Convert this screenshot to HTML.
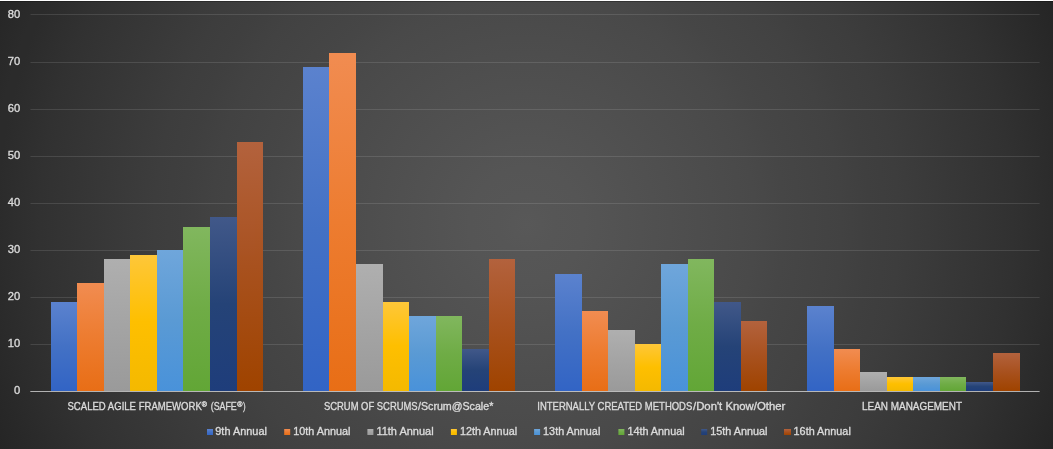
<!DOCTYPE html>
<html lang="en"><head><meta charset="utf-8"><title>Scaling methods chart</title>
<style>html,body{margin:0;padding:0;background:#2b2b2b;overflow:hidden}svg{display:block;will-change:transform;opacity:0.9999}text{font-family:"Liberation Sans",sans-serif;fill:#dcdcdc;stroke:#dcdcdc;stroke-width:0.34px}</style></head><body>
<svg width="1053" height="449" viewBox="0 0 1053 449">
<defs>
<radialGradient id="bg" gradientUnits="userSpaceOnUse" cx="526.5" cy="224.5" r="572.4"><stop offset="0.000" stop-color="rgb(89.0,89.0,89.0)"/><stop offset="0.050" stop-color="rgb(87.2,87.2,87.2)"/><stop offset="0.100" stop-color="rgb(85.5,85.5,85.5)"/><stop offset="0.150" stop-color="rgb(83.6,83.6,83.6)"/><stop offset="0.200" stop-color="rgb(81.7,81.7,81.7)"/><stop offset="0.250" stop-color="rgb(79.8,79.8,79.8)"/><stop offset="0.300" stop-color="rgb(77.8,77.8,77.8)"/><stop offset="0.350" stop-color="rgb(75.7,75.7,75.7)"/><stop offset="0.400" stop-color="rgb(73.6,73.6,73.6)"/><stop offset="0.450" stop-color="rgb(71.4,71.4,71.4)"/><stop offset="0.500" stop-color="rgb(69.1,69.1,69.1)"/><stop offset="0.550" stop-color="rgb(66.7,66.7,66.7)"/><stop offset="0.600" stop-color="rgb(64.2,64.2,64.2)"/><stop offset="0.650" stop-color="rgb(61.6,61.6,61.6)"/><stop offset="0.700" stop-color="rgb(58.9,58.9,58.9)"/><stop offset="0.750" stop-color="rgb(56.0,56.0,56.0)"/><stop offset="0.800" stop-color="rgb(52.9,52.9,52.9)"/><stop offset="0.850" stop-color="rgb(49.6,49.6,49.6)"/><stop offset="0.900" stop-color="rgb(46.1,46.1,46.1)"/><stop offset="0.950" stop-color="rgb(42.3,42.3,42.3)"/><stop offset="1.000" stop-color="rgb(38.0,38.0,38.0)"/></radialGradient>
<linearGradient id="g0" x1="0" y1="0" x2="0" y2="1"><stop offset="0" stop-color="#5c83cf"/><stop offset="0.5" stop-color="#4472c6"/><stop offset="1" stop-color="#3365c6"/></linearGradient>
<linearGradient id="g1" x1="0" y1="0" x2="0" y2="1"><stop offset="0" stop-color="#f28d52"/><stop offset="0.5" stop-color="#ee7d31"/><stop offset="1" stop-color="#e96f17"/></linearGradient>
<linearGradient id="g2" x1="0" y1="0" x2="0" y2="1"><stop offset="0" stop-color="#b0b0b0"/><stop offset="0.5" stop-color="#a5a5a5"/><stop offset="1" stop-color="#9b9b9b"/></linearGradient>
<linearGradient id="g3" x1="0" y1="0" x2="0" y2="1"><stop offset="0" stop-color="#ffc83a"/><stop offset="0.5" stop-color="#ffc000"/><stop offset="1" stop-color="#f5ba00"/></linearGradient>
<linearGradient id="g4" x1="0" y1="0" x2="0" y2="1"><stop offset="0" stop-color="#70a7dc"/><stop offset="0.5" stop-color="#5b9bd5"/><stop offset="1" stop-color="#4a93db"/></linearGradient>
<linearGradient id="g5" x1="0" y1="0" x2="0" y2="1"><stop offset="0" stop-color="#82b85f"/><stop offset="0.5" stop-color="#70ad47"/><stop offset="1" stop-color="#63a737"/></linearGradient>
<linearGradient id="g6" x1="0" y1="0" x2="0" y2="1"><stop offset="0" stop-color="#42598a"/><stop offset="0.5" stop-color="#264478"/><stop offset="1" stop-color="#1f3e7c"/></linearGradient>
<linearGradient id="g7" x1="0" y1="0" x2="0" y2="1"><stop offset="0" stop-color="#b4633e"/><stop offset="0.5" stop-color="#a9521f"/><stop offset="1" stop-color="#a04400"/></linearGradient>
</defs>
<rect width="1053" height="449" fill="url(#bg)"/>
<rect width="1053" height="1" fill="#ffffff"/>
<rect y="1" width="1053" height="1" fill="#000000" fill-opacity="0.28"/>
<rect x="30.5" y="344" width="1009.1" height="1" fill="#f2f2f2" fill-opacity="0.125"/>
<rect x="30.5" y="297" width="1009.1" height="1" fill="#f2f2f2" fill-opacity="0.125"/>
<rect x="30.5" y="250" width="1009.1" height="1" fill="#f2f2f2" fill-opacity="0.125"/>
<rect x="30.5" y="203" width="1009.1" height="1" fill="#f2f2f2" fill-opacity="0.125"/>
<rect x="30.5" y="156" width="1009.1" height="1" fill="#f2f2f2" fill-opacity="0.125"/>
<rect x="30.5" y="109" width="1009.1" height="1" fill="#f2f2f2" fill-opacity="0.125"/>
<rect x="30.5" y="62" width="1009.1" height="1" fill="#f2f2f2" fill-opacity="0.125"/>
<rect x="30.5" y="14" width="1009.1" height="1" fill="#f2f2f2" fill-opacity="0.125"/>
<rect x="51" y="302" width="26" height="89" fill="url(#g0)"/>
<rect x="77" y="283" width="27" height="108" fill="url(#g1)"/>
<rect x="104" y="259" width="26" height="132" fill="url(#g2)"/>
<rect x="130" y="255" width="27" height="136" fill="url(#g3)"/>
<rect x="157" y="250" width="26" height="141" fill="url(#g4)"/>
<rect x="183" y="227" width="27" height="164" fill="url(#g5)"/>
<rect x="210" y="217" width="27" height="174" fill="url(#g6)"/>
<rect x="237" y="142" width="26" height="249" fill="url(#g7)"/>
<rect x="303" y="67" width="26" height="324" fill="url(#g0)"/>
<rect x="329" y="53" width="27" height="338" fill="url(#g1)"/>
<rect x="356" y="264" width="27" height="127" fill="url(#g2)"/>
<rect x="383" y="302" width="26" height="89" fill="url(#g3)"/>
<rect x="409" y="316" width="27" height="75" fill="url(#g4)"/>
<rect x="436" y="316" width="26" height="75" fill="url(#g5)"/>
<rect x="462" y="349" width="27" height="42" fill="url(#g6)"/>
<rect x="489" y="259" width="26" height="132" fill="url(#g7)"/>
<rect x="555" y="274" width="27" height="117" fill="url(#g0)"/>
<rect x="582" y="311" width="26" height="80" fill="url(#g1)"/>
<rect x="608" y="330" width="27" height="61" fill="url(#g2)"/>
<rect x="635" y="344" width="26" height="47" fill="url(#g3)"/>
<rect x="661" y="264" width="27" height="127" fill="url(#g4)"/>
<rect x="688" y="259" width="26" height="132" fill="url(#g5)"/>
<rect x="714" y="302" width="27" height="89" fill="url(#g6)"/>
<rect x="741" y="321" width="26" height="70" fill="url(#g7)"/>
<rect x="807" y="306" width="27" height="85" fill="url(#g0)"/>
<rect x="834" y="349" width="26" height="42" fill="url(#g1)"/>
<rect x="860" y="372" width="27" height="19" fill="url(#g2)"/>
<rect x="887" y="377" width="26" height="14" fill="url(#g3)"/>
<rect x="913" y="377" width="27" height="14" fill="url(#g4)"/>
<rect x="940" y="377" width="26" height="14" fill="url(#g5)"/>
<rect x="966" y="382" width="27" height="9" fill="url(#g6)"/>
<rect x="993" y="353" width="27" height="38" fill="url(#g7)"/>
<rect x="30.3" y="391" width="1009.3" height="1" fill="#f2f2f2" fill-opacity="0.68"/>
<g opacity="0.999">
<text x="20.2" y="394.06" font-size="11.2" text-anchor="end">0</text>
<text x="20.2" y="347.04" font-size="11.2" text-anchor="end">10</text>
<text x="20.2" y="300.02" font-size="11.2" text-anchor="end">20</text>
<text x="20.2" y="253.00" font-size="11.2" text-anchor="end">30</text>
<text x="20.2" y="205.98" font-size="11.2" text-anchor="end">40</text>
<text x="20.2" y="158.96" font-size="11.2" text-anchor="end">50</text>
<text x="20.2" y="111.94" font-size="11.2" text-anchor="end">60</text>
<text x="20.2" y="64.92" font-size="11.2" text-anchor="end">70</text>
<text x="20.2" y="17.90" font-size="11.2" text-anchor="end">80</text>
<text x="67.5" y="410.0" font-size="10.6" textLength="134.3" lengthAdjust="spacingAndGlyphs">SCALED AGILE FRAMEWORK</text>
<text x="201.8" y="407.0" font-size="6.8" textLength="5.2" lengthAdjust="spacingAndGlyphs">®</text>
<text x="210.7" y="410.0" font-size="10.6" textLength="26.1" lengthAdjust="spacingAndGlyphs">(SAFE</text>
<text x="237.3" y="407.0" font-size="6.8" textLength="5.2" lengthAdjust="spacingAndGlyphs">®</text>
<text x="243.0" y="410.0" font-size="10.6" textLength="2.6" lengthAdjust="spacingAndGlyphs">)</text>
<text x="324.0" y="410.0" font-size="10.6" textLength="93.6" lengthAdjust="spacingAndGlyphs">SCRUM OF SCRUMS</text>
<text x="418.0" y="410.0" font-size="10.6" textLength="75.3" lengthAdjust="spacingAndGlyphs">/Scrum@Scale*</text>
<text x="537.3" y="410.0" font-size="10.6" textLength="155.0" lengthAdjust="spacingAndGlyphs">INTERNALLY CREATED METHODS</text>
<text x="693.0" y="410.0" font-size="10.6" textLength="92.3" lengthAdjust="spacingAndGlyphs">/Don't Know/Other</text>
<text x="862.0" y="410.0" font-size="10.6" textLength="100.0" lengthAdjust="spacingAndGlyphs">LEAN MANAGEMENT</text>
<rect x="207.0" y="429" width="6" height="6" fill="url(#g0)"/>
<text x="215.3" y="435.0" font-size="10.8" textLength="51.6" lengthAdjust="spacingAndGlyphs">9th Annual</text>
<rect x="284.2" y="429" width="6" height="6" fill="url(#g1)"/>
<text x="293.2" y="435.0" font-size="10.8" textLength="57.2" lengthAdjust="spacingAndGlyphs">10th Annual</text>
<rect x="367.4" y="429" width="6" height="6" fill="url(#g2)"/>
<text x="376.4" y="435.0" font-size="10.8" textLength="57.2" lengthAdjust="spacingAndGlyphs">11th Annual</text>
<rect x="450.9" y="429" width="6" height="6" fill="url(#g3)"/>
<text x="459.9" y="435.0" font-size="10.8" textLength="57.2" lengthAdjust="spacingAndGlyphs">12th Annual</text>
<rect x="534.1" y="429" width="6" height="6" fill="url(#g4)"/>
<text x="543.1" y="435.0" font-size="10.8" textLength="57.2" lengthAdjust="spacingAndGlyphs">13th Annual</text>
<rect x="618.4" y="429" width="6" height="6" fill="url(#g5)"/>
<text x="627.4" y="435.0" font-size="10.8" textLength="57.2" lengthAdjust="spacingAndGlyphs">14th Annual</text>
<rect x="701.2" y="429" width="6" height="6" fill="url(#g6)"/>
<text x="710.2" y="435.0" font-size="10.8" textLength="57.2" lengthAdjust="spacingAndGlyphs">15th Annual</text>
<rect x="784.0" y="429" width="7" height="6" fill="url(#g7)"/>
<text x="793.6" y="435.0" font-size="10.8" textLength="57.2" lengthAdjust="spacingAndGlyphs">16th Annual</text>
</g>
</svg></body></html>
